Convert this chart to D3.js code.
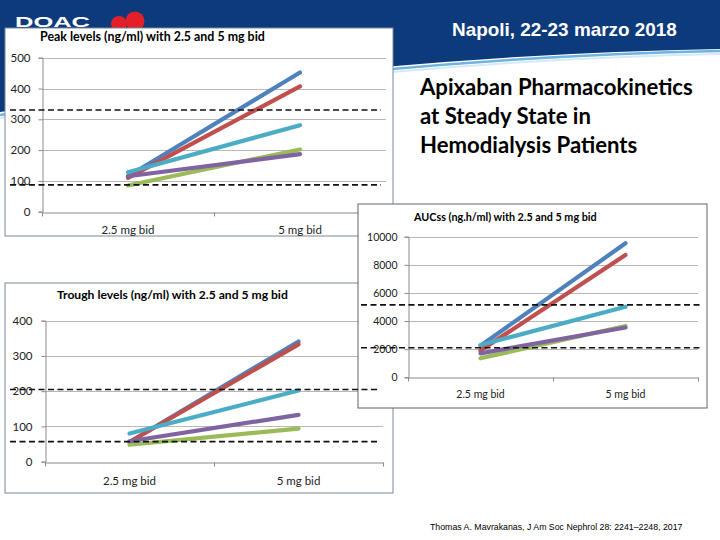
<!DOCTYPE html>
<html>
<head>
<meta charset="utf-8">
<script src="https://cdn.jsdelivr.net/npm/d3@7/dist/d3.min.js"></script>
<style>
  html, body { margin: 0; padding: 0; background: #ffffff; }
  svg { display: block; }
</style>
</head>
<body>
<svg id="slide" width="720" height="540"></svg>
<script>
// ---------------- DATA ----------------
const categories = ["2.5 mg bid", "5 mg bid"];
const seriesColors = ["#4F81BD", "#C0504D", "#9BBB59", "#8064A2", "#4BACC6"]; // Excel series order

// Peak levels (ng/ml): [2.5 mg bid, 5 mg bid] per series (blue, red, green, purple, cyan)
const peakBlue   = [115, 452];
const peakRed    = [110, 407];
const peakGreen  = [85, 202];
const peakPurple = [115, 187];
const peakCyan   = [128, 281];
const peakTicks  = [0, 100, 200, 300, 400, 500];
const peakRefs   = [330, 87];

// AUCss (ng.h/ml)
const aucBlue   = [2250, 9530];
const aucRed    = [1900, 8700];
const aucGreen  = [1350, 3650];
const aucPurple = [1700, 3540];
const aucCyan   = [2300, 5020];
const aucTicks  = [0, 2000, 4000, 6000, 8000, 10000];
const aucRefs   = [5150, 2100];

// Trough levels (ng/ml)
const troughBlue   = [56, 341];
const troughRed    = [56, 333];
const troughGreen  = [48, 94];
const troughPurple = [58, 133];
const troughCyan   = [80, 202];
const troughTicks  = [0, 100, 200, 300, 400];
const troughRefs   = [205, 57];

// ---------------- DRAWING ----------------
const svg = d3.select("#slide");
const FONT = "Lato, 'Liberation Sans', sans-serif";

function fitText(sel, width) {
  const n = sel.node().getComputedTextLength();
  const fs = parseFloat(sel.attr("font-size"));
  if (n > 0) sel.attr("font-size", fs * width / n);
  return sel;
}

// Header
const gHead = svg.append("g");
gHead.append("path")
  .attr("d", "M0,0 H720 V49 Q400,54 0,112 Z")
  .attr("fill", "#0C3A7B");
gHead.append("path")
  .attr("d", "M720,51 Q400,57 0,115")
  .attr("fill", "none").attr("stroke", "#6FB3DF").attr("stroke-width", 2.5);
gHead.append("path")
  .attr("d", "M720,54 Q400,60 0,118")
  .attr("fill", "none").attr("stroke", "#D6EAF6").attr("stroke-width", 2);
gHead.append("text")
  .attr("x", 15).attr("y", 27)
  .attr("font-family", "'Liberation Sans', Arial, sans-serif")
  .attr("font-weight", "bold").attr("font-size", 15)
  .attr("textLength", 75).attr("lengthAdjust", "spacingAndGlyphs")
  .attr("fill", "#ffffff").text("DOAC");
gHead.append("circle").attr("cx", 119).attr("cy", 24).attr("r", 8).attr("fill", "#E3202A");
gHead.append("circle").attr("cx", 135).attr("cy", 21).attr("r", 9.5).attr("fill", "#E3202A");
const napoli = gHead.append("text")
  .attr("x", 452).attr("y", 36)
  .attr("font-family", "'Liberation Sans', Arial, sans-serif")
  .attr("font-weight", "bold").attr("font-size", 20)
  .attr("fill", "#ffffff").text("Napoli, 22-23 marzo 2018");
fitText(napoli, 225);

// Slide title
const titleLines = ["Apixaban Pharmacokinetics", "at Steady State in", "Hemodialysis Patients"];
const gTitle = svg.append("g");
const t0 = gTitle.append("text")
  .attr("x", 420).attr("y", 95)
  .attr("font-family", FONT).attr("font-weight", "bold").attr("font-size", 20)
  .attr("fill", "#000").text(titleLines[0]);
fitText(t0, 273);
const titleSize = t0.attr("font-size");
titleLines.slice(1).forEach((s, i) => {
  gTitle.append("text")
    .attr("x", 420).attr("y", 95 + 29 * (i + 1))
    .attr("font-family", FONT).attr("font-weight", "bold").attr("font-size", titleSize)
    .attr("fill", "#000").text(s);
});

// Citation
const cite = svg.append("text")
  .attr("x", 430).attr("y", 530)
  .attr("font-family", "'Liberation Sans', Arial, sans-serif")
  .attr("font-size", 9).attr("fill", "#000")
  .text("Thomas A. Mavrakanas, J Am Soc Nephrol 28: 2241\u20132248, 2017");
fitText(cite, 253);

function drawChart(g, cfg) {
  // box
  g.append("rect")
    .attr("x", cfg.box[0]).attr("y", cfg.box[1])
    .attr("width", cfg.box[2]).attr("height", cfg.box[3])
    .attr("fill", "#ffffff").attr("stroke", cfg.boxStroke).attr("stroke-width", 1);

  const x = d3.scaleBand().domain(categories).range([cfg.px0, cfg.px1]);
  const y = d3.scaleLinear().domain([0, d3.max(cfg.ticks)]).range([cfg.py0, cfg.py1]);

  // title
  const tt = g.append("text")
    .attr("x", cfg.titlePos[0]).attr("y", cfg.titlePos[1])
    .attr("font-family", FONT).attr("font-weight", "bold").attr("font-size", 11)
    .attr("fill", "#000").text(cfg.title);
  fitText(tt, cfg.titleWidth);

  // gridlines
  g.append("g").selectAll("line").data(cfg.ticks.filter(t => t > 0)).join("line")
    .attr("x1", cfg.px0).attr("x2", cfg.px1)
    .attr("y1", d => Math.round(y(d)) + 0.5).attr("y2", d => Math.round(y(d)) + 0.5)
    .attr("stroke", "#B8B8B8").attr("stroke-width", 1);

  // y axis
  const yAxis = g.append("g")
    .attr("transform", `translate(${cfg.px0 + 0.5},0)`)
    .call(d3.axisLeft(y).tickValues(cfg.ticks).tickSize(4).tickPadding(cfg.yPad).tickFormat(d3.format("d")));
  yAxis.select(".domain").attr("stroke", "#8A8A8A");
  yAxis.selectAll(".tick line").attr("stroke", "#8A8A8A");
  yAxis.selectAll("text").attr("font-family", FONT).attr("font-size", cfg.yFont).attr("fill", "#222");

  // x axis
  const xAxis = g.append("g")
    .attr("transform", `translate(0,${Math.round(cfg.py0) + 0.5})`)
    .call(d3.axisBottom(x).tickSize(0).tickPadding(cfg.xPad));
  xAxis.select(".domain").attr("stroke", "#8A8A8A");
  xAxis.selectAll("text").attr("font-family", FONT).attr("font-size", cfg.xFont).attr("fill", "#222");
  // band boundary ticks
  const bounds = [cfg.px0, ...categories.map(c => x(c) + x.bandwidth())];
  xAxis.append("g").selectAll("line").data(bounds).join("line")
    .attr("x1", d => Math.round(d) + 0.5).attr("x2", d => Math.round(d) + 0.5)
    .attr("y1", 0).attr("y2", 4).attr("stroke", "#8A8A8A");

  // series lines
  const line = d3.line()
    .x((d, i) => x(categories[i]) + x.bandwidth() / 2)
    .y(d => y(d));
  g.append("g").selectAll("path").data(cfg.series).join("path")
    .attr("d", d => line(d))
    .attr("fill", "none")
    .attr("stroke", (d, i) => seriesColors[i])
    .attr("stroke-width", 4.2)
    .attr("stroke-linecap", "round");

  return y;
}

function drawRefs(g, y, refs, xr) {
  g.append("g").selectAll("line").data(refs).join("line")
    .attr("x1", xr[0]).attr("x2", xr[1])
    .attr("y1", d => y(d)).attr("y2", d => y(d))
    .attr("stroke", "#111").attr("stroke-width", 1.6)
    .attr("stroke-dasharray", "6,3.5");
}

const gPeak = svg.append("g");
const gTrough = svg.append("g");
const gAuc = svg.append("g");
const gOver = svg.append("g");

const yPeak = drawChart(gPeak, {
  box: [5, 28, 388, 208], boxStroke: "#7A8899",
  px0: 42, px1: 386, py0: 211.7, py1: 57.7,
  ticks: peakTicks,
  series: [peakBlue, peakRed, peakGreen, peakPurple, peakCyan],
  title: "Peak levels (ng/ml) with 2.5 and 5 mg bid", titlePos: [40, 41], titleWidth: 225,
  yPad: 8, yFont: 11.5, xPad: 13, xFont: 11.5
});
drawRefs(gPeak, yPeak, peakRefs, [10, 381]);

const yTrough = drawChart(gTrough, {
  box: [5, 283, 388, 210], boxStroke: "#7A8899",
  px0: 45, px1: 383, py0: 461.7, py1: 320.7,
  ticks: troughTicks,
  series: [troughBlue, troughRed, troughGreen, troughPurple, troughCyan],
  title: "Trough levels (ng/ml) with 2.5 and 5 mg bid", titlePos: [57, 299], titleWidth: 231,
  yPad: 9, yFont: 11.5, xPad: 14, xFont: 11.5
});

const yAuc = drawChart(gAuc, {
  box: [358, 204, 349, 204], boxStroke: "#5E6670",
  px0: 408, px1: 698, py0: 377.3, py1: 236.7,
  ticks: aucTicks,
  series: [aucBlue, aucRed, aucGreen, aucPurple, aucCyan],
  title: "AUCss (ng.h/ml) with 2.5 and 5 mg bid", titlePos: [414, 221], titleWidth: 183,
  yPad: 7, yFont: 10.5, xPad: 13, xFont: 10.5
});
drawRefs(gAuc, yAuc, aucRefs, [361, 703]);

drawRefs(gOver, yTrough, troughRefs, [10, 378]);
</script>
</body>
</html>
